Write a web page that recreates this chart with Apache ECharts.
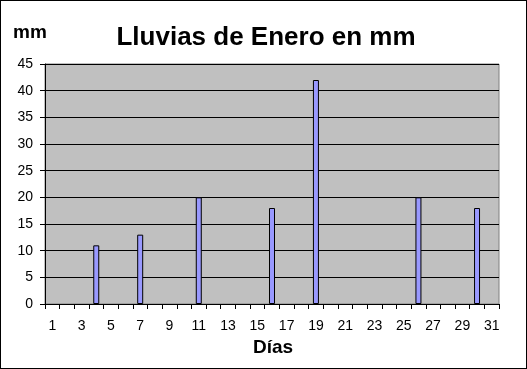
<!DOCTYPE html>
<html>
<head>
<meta charset="utf-8">
<script src="https://cdn.jsdelivr.net/npm/echarts@6/dist/echarts.min.js"></script>
<style>
html,body{margin:0;padding:0;background:#fff;}
#c{position:absolute;left:0;top:0;width:525px;height:367px;border:1px solid #000;border-right-width:2px;border-bottom-width:2px;background:#fff;}
</style>
</head>
<body>
<div id="c"></div>
<script>
const titleText = 'Lluvias de Enero en mm';
const yUnit = 'mm';
const xName = 'Días';
const days = ['1','2','3','4','5','6','7','8','9','10','11','12','13','14','15','16','17','18','19','20','21','22','23','24','25','26','27','28','29','30','31'];
const rainDays = ['4','7','11','16','19','26','30'];
const rainMm = [11, 13, 20, 18, 42, 20, 18];

const seriesData = days.map(d => {
  const i = rainDays.indexOf(d);
  return i >= 0 ? rainMm[i] : null;
});

const chart = echarts.init(document.getElementById('c'));
chart.setOption({
  animation: false,
  backgroundColor: '#fff',
  title: [
    {text: titleText, left: 260, top: 19, textAlign: 'center',
     textStyle: {fontFamily: 'Liberation Sans', fontWeight: 'bold', fontSize: 26, color: '#000'}},
    {text: yUnit, left: 7, top: 17,
     textStyle: {fontFamily: 'Liberation Sans', fontWeight: 'bold', fontSize: 19, color: '#000'}}
  ],
  grid: {left: 44, right: 27, top: 63, bottom: 64, show: true,
         backgroundColor: '#c0c0c0', borderColor: '#808080', borderWidth: 1},
  xAxis: {
    type: 'category', data: days, boundaryGap: true,
    name: xName, nameLocation: 'middle', nameGap: 32,
    nameTextStyle: {fontFamily: 'Liberation Sans', fontWeight: 'bold', fontSize: 19, color: '#000', padding: [0,0,0,2]},
    axisLine: {show: true, lineStyle: {color: '#000', width: 1}},
    axisTick: {show: true, interval: 0, length: 5, lineStyle: {color: '#000'}},
    axisLabel: {interval: 1, margin: 15, fontFamily: 'Liberation Sans', fontSize: 14, color: '#000'},
    splitLine: {show: false}
  },
  yAxis: {
    type: 'value', min: 0, max: 45, interval: 5,
    axisLine: {show: true, lineStyle: {color: '#000', width: 1}},
    axisTick: {show: true, length: 5, lineStyle: {color: '#000'}},
    axisLabel: {margin: 12, fontFamily: 'Liberation Sans', fontSize: 14, color: '#000'},
    splitLine: {show: true, lineStyle: {color: '#000', width: 1}}
  },
  series: [{
    type: 'bar', data: seriesData, barWidth: 6,
    itemStyle: {color: '#9999ff', borderColor: '#000', borderWidth: 1}
  }]
});
</script>
</body>
</html>
